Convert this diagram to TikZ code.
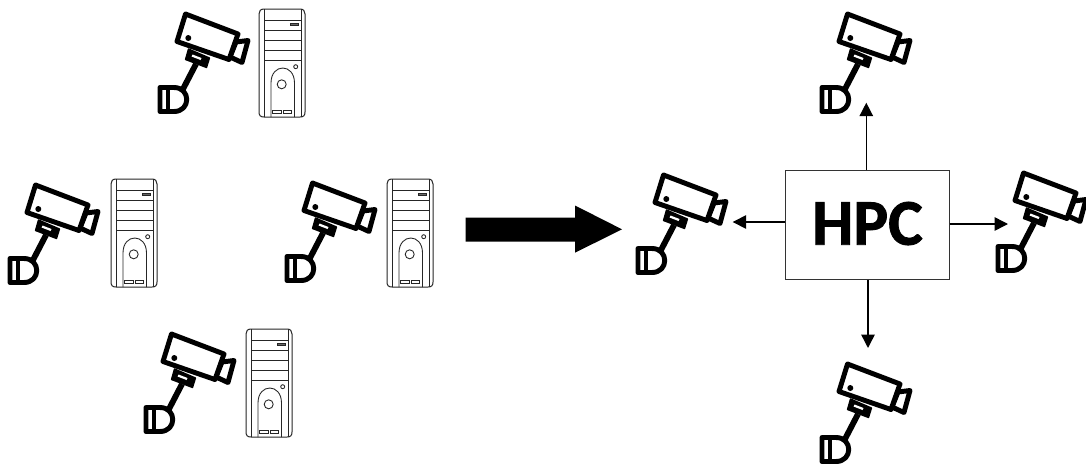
\documentclass[tikz,border=0pt]{standalone}
\usepackage{fontspec}
\setmainfont{Carlito}
\newfontfamily\hpcfont{Carlito}[UprightFont=*-Bold,FakeBold=1.2]
\usetikzlibrary{arrows.meta}
\tikzset{
  camline/.style={line width=3.7pt,line join=round,line cap=round,draw=black,fill=white},
  srv/.style={line width=0.75pt,draw=black!85,fill=white},
  srvthin/.style={line width=0.65pt,draw=black!85},
  link/.style={line width=1.1pt,-{Triangle[length=10pt,width=10pt]}},
  hpcbox/.style={draw=black!80,line width=0.75pt,fill=white,minimum width=122.5pt,minimum height=81.5pt,inner sep=0pt,font=\fontsize{49}{49}\selectfont\hpcfont},
  pics/camera/.style={code={
    \draw[line width=3.7pt,line join=round,draw=black,fill=white] (236,42) -- (248,40.5) -- (242,62.5) -- (230,57) -- cycle;
    \draw[camline] (185.5,14) -- (238,34) -- (229,59.5) -- (177,41.5) -- cycle;
    \fill[line join=round,draw=black,line width=1pt] (188.5,49) -- (209.5,58) -- (206.5,67.5) -- (185.5,59.5) -- cycle;
    \fill[white] (192.5,54.5) -- (201.5,58) -- (200.5,60) -- (191.5,56.5) -- cycle;
    \draw[line width=4.4pt,line cap=butt] (196,64) -- (183,89);
    \draw[line width=3.7pt,line join=round,draw=black,fill=white] (160,87.5) -- (174,87.5) .. controls (191,87.5) and (191,111.5) .. (174,111.5) -- (160,111.5) -- cycle;
    \draw[line width=3.4pt] (168,88) -- (168,111);
    \fill (188.3,38) circle (3);
  }},
  pics/server/.style={code={
    \draw[srv] (264,9) -- (300,9) .. controls (303.5,9) and (305,11) .. (305,14) -- (305,112) .. controls (305,115.5) and (303.5,117) .. (300,117) -- (264,117) .. controls (260.5,117) and (259,115.5) .. (259,112) -- (259,14) .. controls (259,11) and (260.5,9) .. (264,9) -- cycle;
    \draw[srvthin] (264,9) -- (264,117) (301,9) -- (301,117);
    \draw[srvthin] (264,20) -- (301,20) (264,30) -- (301,30) (264,40.5) -- (301,40.5) (264,50.5) -- (301,50.5) (264,60.5) -- (301,60.5);
    \draw[srvthin,fill=black!60] (290,23) rectangle (298,25.5);
    \draw[srvthin] (295.7,66.7) circle (2);
    \draw[srvthin] (271,117) -- (271,83) .. controls (271,63) and (294.5,63) .. (294.5,83) -- (294.5,117);
    \draw[srvthin] (281.7,84.3) circle (4.5);
    \draw[srvthin] (272.7,110.3) rectangle (281,113.3) (283.3,110.3) rectangle (291.5,113.3);
  }}
}
\begin{document}
\begin{tikzpicture}[x=0.75pt,y=-0.75pt]
\useasboundingbox (0,0) rectangle (1086,469);
% left group
\pic at (0,0) {camera}; \pic at (0,0) {server};
\pic at (-150,171) {camera}; \pic at (-148,170) {server};
\pic at (127,169) {camera}; \pic at (128,170) {server};
\pic at (-14,320) {camera}; \pic at (-13,320) {server};
% big arrow
\fill[black] (465.5,217.5) -- (575,217.5) -- (575,205.5) -- (622,229.3) -- (575,252.7) -- (575,241.5) -- (465.5,241.5) -- cycle;
% right group
\pic at (662,0) {camera};
\pic at (478,161) {camera};
\pic at (838,159) {camera};
\pic at (662,350) {camera};
\node[hpcbox] (hpc) at (867.5,225.3) {\raisebox{3pt}{HPC}};
\coordinate (up) at (866.3,102.7);
\coordinate (lft) at (732.7,222);
\coordinate (rgt) at (1008,224);
\coordinate (dn) at (868,348);
\draw[link] (hpc.north -| up) -- (up);
\draw[link] (hpc.west |- lft) -- (lft);
\draw[link] (hpc.east |- rgt) -- (rgt);
\draw[link] (hpc.south -| dn) -- (dn);
\end{tikzpicture}
\end{document}
